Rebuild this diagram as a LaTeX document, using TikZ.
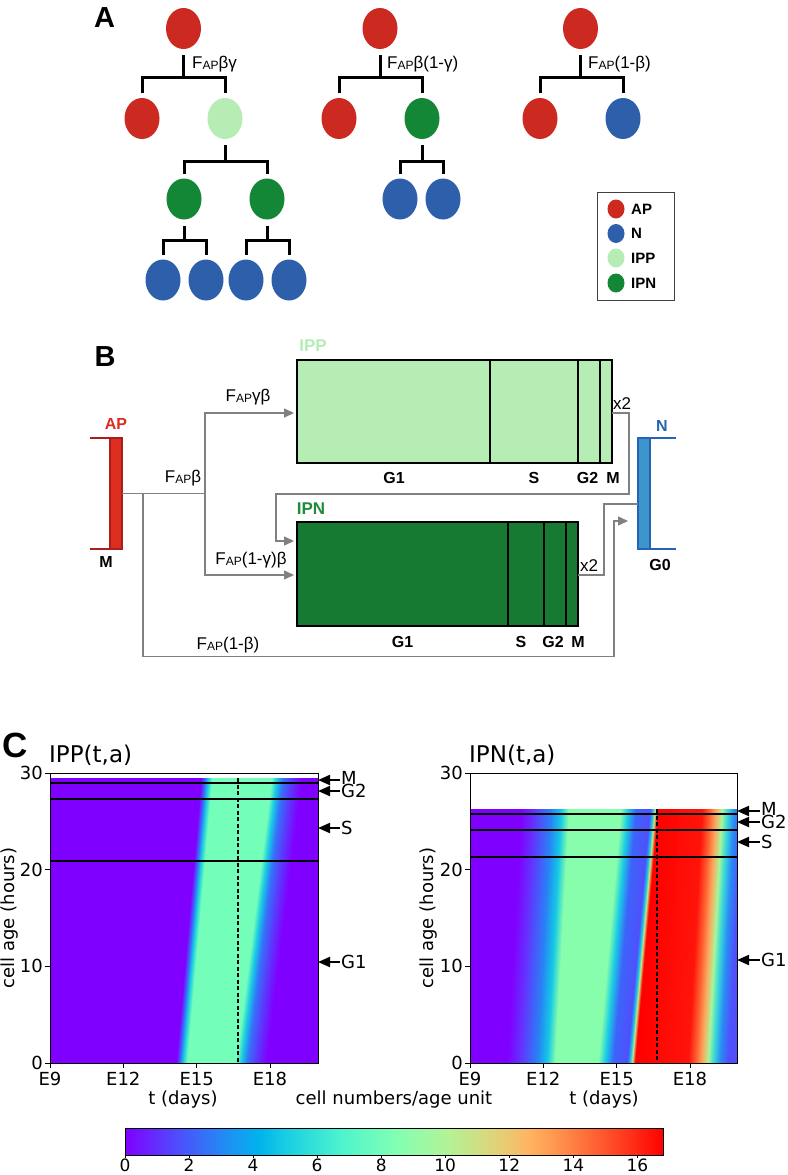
\documentclass[tikz,border=0pt]{standalone}
\usepackage{fontspec}
\setmainfont{Liberation Sans}
\newfontfamily\dejavu{DejaVu Sans}
\usetikzlibrary{shapes.geometric,arrows.meta}

\definecolor{cred}{RGB}{204,41,33}
\definecolor{cblue}{RGB}{45,95,170}
\definecolor{clgreen}{RGB}{181,237,181}
\definecolor{cdgreen}{RGB}{20,135,55}
\definecolor{boxdg}{RGB}{22,122,50}
\definecolor{ipnlabel}{RGB}{30,140,60}
\definecolor{apfill}{RGB}{220,45,30}
\definecolor{apedge}{RGB}{170,30,30}
\definecolor{nfill}{RGB}{60,150,205}
\definecolor{nedge}{RGB}{40,100,180}
\definecolor{conn}{RGB}{128,128,128}
% rainbow colormap
\definecolor{rb0}{RGB}{128,0,255}
\definecolor{rb1}{RGB}{77,79,252}
\definecolor{rb2}{RGB}{26,150,243}
\definecolor{rb25}{RGB}{0,180,236}
\definecolor{rb3}{RGB}{26,206,227}
\definecolor{rb4}{RGB}{77,243,206}
\definecolor{rb5}{RGB}{128,255,180}
\definecolor{rb6}{RGB}{179,243,150}
\definecolor{rb7}{RGB}{230,206,116}
\definecolor{rb75}{RGB}{255,180,98}
\definecolor{rb8}{RGB}{255,150,79}
\definecolor{rb9}{RGB}{255,79,40}
\definecolor{rb10}{RGB}{255,0,0}
% heatmap colours
\definecolor{hpur}{RGB}{128,0,255}
\definecolor{hbl}{RGB}{52,116,248}
\definecolor{hcy}{RGB}{24,204,228}
\definecolor{hmint}{RGB}{115,254,186}
\definecolor{hvio}{RGB}{91,56,253}
\definecolor{nv1}{RGB}{100,50,254}
\definecolor{nb1}{RGB}{40,130,245}
\definecolor{ncy}{RGB}{20,200,230}
\definecolor{nmint}{RGB}{135,254,172}
\definecolor{nbv}{RGB}{60,100,250}
\definecolor{nbv2}{RGB}{80,80,252}
\definecolor{nyg}{RGB}{200,230,130}
\definecolor{nred}{RGB}{255,0,0}
\definecolor{nred2}{RGB}{255,20,10}
\definecolor{nor1}{RGB}{255,100,50}
\definecolor{nor2}{RGB}{250,170,95}
\definecolor{nlg}{RGB}{170,245,150}
\definecolor{ncy2}{RGB}{60,220,215}
\definecolor{nbl2}{RGB}{40,140,245}
\definecolor{nend}{RGB}{90,70,252}

\pgfdeclarehorizontalshading{cbarsh}{100bp}{color(0bp)=(rb0); color(25bp)=(rb0); color(30bp)=(rb1); color(35bp)=(rb2); color(37.5bp)=(rb25); color(40bp)=(rb3); color(45bp)=(rb4); color(50bp)=(rb5); color(55bp)=(rb6); color(60bp)=(rb7); color(62.5bp)=(rb75); color(65bp)=(rb8); color(70bp)=(rb9); color(75bp)=(rb10); color(100bp)=(rb10)}
\pgfdeclarehorizontalshading{ippsh}{100bp}{color(0bp)=(hpur); color(42.6bp)=(hpur); color(43bp)=(hbl); color(43.3bp)=(hcy); color(43.7bp)=(hmint); color(48.6bp)=(hmint); color(49.1bp)=(hcy); color(49.7bp)=(hbl); color(50.6bp)=(hvio); color(51.6bp)=(hpur); color(100bp)=(hpur)}
\pgfdeclarehorizontalshading{ipnsh}{100bp}{color(0bp)=(hpur); color(35.7bp)=(hpur); color(37bp)=(nv1); color(38.7bp)=(nb1); color(39.7bp)=(ncy); color(40.5bp)=(nmint); color(44.8bp)=(nmint); color(45.5bp)=(hcy); color(46.3bp)=(nbv); color(47.7bp)=(nbv2); color(48bp)=(ncy); color(48.2bp)=(nyg); color(48.5bp)=(nred); color(53.8bp)=(nred2); color(54.6bp)=(nor1); color(55.2bp)=(nor2); color(55.8bp)=(nlg); color(56.3bp)=(ncy2); color(57bp)=(nbl2); color(57.8bp)=(nbv2); color(61bp)=(nend); color(100bp)=(nend)}

\newcommand{\FAP}{F\raisebox{-1.2pt}{\fontsize{12}{12}\selectfont AP}}
\newcommand{\branch}[4]{%
  \coordinate (tmpbar) at (0,#4);
  \draw[tree] ([yshift=-6pt]#1.south) -- (#1.south |- tmpbar);
  \draw[tree] ([yshift=4.5pt]#2.north) -- (#2.north |- tmpbar) -- (#3.north |- tmpbar) -- ([yshift=4.5pt]#3.north);
}
% #1 clip path, #2 xshift (= slant*1063), #3 slant, #4 shading, #5 rectangle
\newcommand{\heatpart}[5]{%
  \begin{scope}
    \clip #1;
    \begin{scope}[transform canvas={xshift=#2pt, xslant=#3}]
      \shade[shading=#4] #5;
    \end{scope}
  \end{scope}
}

\begin{document}
\begin{tikzpicture}[x=1pt,y=-1pt,
  cell/.style={ellipse, minimum width=35pt, minimum height=41pt, inner sep=0pt, draw=none},
  cAP/.style={cell, fill=cred}, cN/.style={cell, fill=cblue},
  cIPP/.style={cell, fill=clgreen}, cIPN/.style={cell, fill=cdgreen},
  lcell/.style={ellipse, minimum width=17pt, minimum height=19pt, inner sep=0pt, draw=none},
  tree/.style={line width=3pt, black},
  panel/.style={font=\fontsize{29}{30}\selectfont\bfseries},
  rate/.style={font=\fontsize{17}{20}\selectfont, inner sep=0pt},
  bl/.style={font=\fontsize{16}{18}\selectfont\bfseries, inner sep=0pt},
  legl/.style={font=\fontsize{15}{17}\selectfont\bfseries, inner sep=0pt, anchor=west},
  phase/.style={draw=black, line width=2pt, inner sep=0pt, outer sep=0pt},
  divl/.style={black, line width=2pt},
  conn/.style={draw=conn, line width=1.5pt},
  arr/.style={-{Triangle[length=10pt,width=9pt]}, shorten >=3pt},
  tl/.style={font=\dejavu\fontsize{18}{20}\selectfont, inner sep=0pt},
  cbt/.style={font=\dejavu\fontsize{17}{18}\selectfont, inner sep=0pt},
  frame/.style={draw=black, line width=1pt},
  tick/.style={black, line width=1pt},
  hline/.style={black, line width=1.3pt},
  dline/.style={black, line width=1.3pt, dash pattern=on 4pt off 2.5pt},
  ann/.style={black, line width=2pt, -{Triangle[length=12pt,width=10pt]}},
]
\useasboundingbox (0,0) rectangle (787,1175);
\fill[white] (0,0) rectangle (787,1175);

% ================= Panel A =================
\node[panel] (labA) at (104.5,17.5) {A};
% tree 1
\node[cAP] (r1) at (183.5,28.5) {};
\node[cAP] (r1a) at (142,118.5) {};
\node[cIPP] (r1b) at (225,118.5) {};
\node[cIPN] (r1c) at (184,199) {};
\node[cIPN] (r1d) at (267,199) {};
\node[cN] (r1e) at (163,280) {};
\node[cN] (r1f) at (206,280) {};
\node[cN] (r1g) at (246,280) {};
\node[cN] (r1h) at (289,280) {};
\branch{r1}{r1a}{r1b}{77}
\branch{r1b}{r1c}{r1d}{161.5}
\branch{r1c}{r1e}{r1f}{240}
\branch{r1d}{r1g}{r1h}{240}
\node[rate, anchor=west] (t1) at (192,64) {\FAP βγ};
% tree 2
\node[cAP] (r2) at (380,28.5) {};
\node[cAP] (r2a) at (339,118.5) {};
\node[cIPN] (r2b) at (422,118.5) {};
\node[cN] (r2c) at (400,199) {};
\node[cN] (r2d) at (443,199) {};
\branch{r2}{r2a}{r2b}{77}
\branch{r2b}{r2c}{r2d}{161.5}
\node[rate, anchor=west] (t2) at (387,64) {\FAP β(1-γ)};
% tree 3
\node[cAP] (r3) at (580.5,28.5) {};
\node[cAP] (r3a) at (540,118.5) {};
\node[cN] (r3b) at (623,118.5) {};
\branch{r3}{r3a}{r3b}{77}
\node[rate, anchor=west] (t3) at (588,64) {\FAP(1-β)};
% legend
\node[draw=black!75, line width=1pt, minimum width=77pt, minimum height=108pt, inner sep=0pt] (legend) at (635.5,246) {};
\node[lcell, fill=cred] (lg1) at (616,209) {};
\node[lcell, fill=cblue] (lg2) at (616,233.5) {};
\node[lcell, fill=clgreen] (lg3) at (616,258) {};
\node[lcell, fill=cdgreen] (lg4) at (616,283) {};
\node[legl] (lt1) at (631,209) {AP};
\node[legl] (lt2) at (631,233.5) {N};
\node[legl] (lt3) at (631,258) {IPP};
\node[legl] (lt4) at (631,283) {IPN};

% ================= Panel B =================
\node[panel] (labB) at (105,357) {B};
% AP bracket
\draw[apedge, line width=2.5pt] (90,438) -- (122,438);
\draw[apedge, line width=2.5pt] (90,549) -- (122,549);
\node[fill=apfill, draw=apedge, line width=2pt, minimum width=12pt, minimum height=111pt, inner sep=0pt, outer sep=0pt] (apbar) at (116,493.5) {};
\node[bl, text=apfill] (aplab) at (116,424) {AP};
\node[bl] (apm) at (106,562) {M};
% N bracket
\draw[nedge, line width=2.5pt] (638,438) -- (676,438);
\draw[nedge, line width=2.5pt] (638,549) -- (676,549);
\node[fill=nfill, draw=nedge, line width=2pt, minimum width=12pt, minimum height=111pt, inner sep=0pt, outer sep=0pt] (nbar) at (644,493.5) {};
\node[bl, text=nedge] (nlab) at (662,426) {N};
\node[bl] (ng0) at (660,565) {G0};
% IPP box
\node[phase, fill=clgreen, minimum width=315pt, minimum height=103pt] (ipp) at (454.5,411.5) {};
\draw[divl] (490,360) -- (490,463);
\draw[divl] (578,360) -- (578,463);
\draw[divl] (600,360) -- (600,463);
\node[bl] at (394,478) {G1};
\node[bl] at (534,478) {S};
\node[bl] at (587.5,478) {G2};
\node[bl] at (613,478) {M};
\node[font=\fontsize{17}{18}\selectfont\bfseries, text=clgreen, inner sep=0pt] (ipplab) at (313,346) {IPP};
% IPN box
\node[phase, fill=boxdg, minimum width=281pt, minimum height=104pt] (ipn) at (437.5,574) {};
\draw[divl] (508,522) -- (508,626);
\draw[divl] (544,522) -- (544,626);
\draw[divl] (566,522) -- (566,626);
\node[bl] at (402.5,642) {G1};
\node[bl] at (521,642) {S};
\node[bl] at (553,642) {G2};
\node[bl] at (578,642) {M};
\node[font=\fontsize{17}{18}\selectfont\bfseries, text=ipnlabel, inner sep=0pt] (ipnlab) at (311,509) {IPN};
% connectors
\coordinate (j1) at (143,493.5);
\coordinate (j2) at (205,493.5);
\draw[conn] (apbar.east) -- (j2);
\draw[conn, arr] (j2) |- ([yshift=-1.5pt]ipp.west);
\draw[conn, arr] (j2) |- ([yshift=-1pt]ipn.west);
\coordinate (b1) at (614,656.5);
\draw[conn, -{Triangle[length=10pt,width=9pt]}, shorten >=10pt] (j1) |- (b1) |- ([yshift=-27.5pt]nbar.west);
\coordinate (k1) at (629,494);
\coordinate (k2) at (276,494);
\draw[conn, arr] ([yshift=-1.5pt]ipp.east) -| (k1) -- (k2) |- ([yshift=33pt]ipn.west);
\coordinate (n1) at (604,504);
\draw[conn] ([yshift=-1pt]ipn.east) -| (n1) -- ([yshift=-10.5pt]nbar.west);
\node[rate] (x2a) at (622,404) {x2};
\node[rate] (x2b) at (589,566) {x2};
\node[rate] (lb1) at (248,397) {\FAP γβ};
\node[rate] (lb2) at (183,478) {\FAP β};
\node[rate] (lb3) at (251,560) {\FAP(1-γ)β};
\node[rate] (lb4) at (228,645) {\FAP(1-β)};

% ================= Panel C =================
\node[font=\fontsize{35}{36}\selectfont\bfseries, inner sep=0pt] (labC) at (15,745) {C};
% ---- IPP heatmap
\node[font=\dejavu\fontsize{23}{25}\selectfont, inner sep=0pt, anchor=west] (ttl1) at (49,755) {IPP(t,a)};
\heatpart{(50,778) -- (236,778) -- (211,1063) -- (50,1063) -- cycle}{93.544}{0.088}{ippsh}{(0,770) rectangle (500,1070)}
\heatpart{(234,778) -- (318,778) -- (318,1063) -- (209,1063) -- cycle}{132.875}{0.125}{ippsh}{(0,770) rectangle (500,1070)}
\draw[hline] (50,783) -- (318,783);
\draw[hline] (50,799) -- (318,799);
\draw[hline] (50,861) -- (318,861);
\draw[dline] (238,778) -- (238,1063);
\draw[frame] (50,773) rectangle (318,1063);
\foreach \v/\yy in {0/1063,10/966.3,20/869.7,30/773} {
  \draw[tick] (50,\yy) -- (45,\yy);
  \node[tl, anchor=east] at (43,\yy) {\v};
}
\foreach \lab/\xx in {E9/50,E12/123.3,E15/196.7,E18/270} {
  \draw[tick] (\xx,1063) -- (\xx,1068);
  \node[tl] at (\xx,1079) {\lab};
}
\node[tl, rotate=90] (yl1) at (10,918) {cell age (hours)};
\node[tl] (xl1) at (183,1100) {t (days)};
\draw[ann] (340,780) -- (318,780);
\draw[ann] (340,791) -- (318,791);
\draw[ann] (340,828) -- (318,828);
\draw[ann] (340,962) -- (318,962);
\node[tl, anchor=west] at (341,778) {M};
\node[tl, anchor=west] at (341,791) {G2};
\node[tl, anchor=west] at (341,828) {S};
\node[tl, anchor=west] at (341,962) {G1};
% ---- IPN heatmap
\node[font=\dejavu\fontsize{23}{25}\selectfont, inner sep=0pt, anchor=west] (ttl2) at (469,755) {IPN(t,a)};
\heatpart{(470,809) -- (591,809) -- (576,1063) -- (470,1063) -- cycle}{58.465}{0.055}{ipnsh}{(400,800) rectangle (900,1070)}
\heatpart{(589,809) -- (681,809) -- (666,1063) -- (574,1063) -- cycle}{95.67}{0.09}{ipnsh}{(400,800) rectangle (900,1070)}
\heatpart{(679,809) -- (737,809) -- (737,1063) -- (664,1063) -- cycle}{58.465}{0.055}{ipnsh}{(400,800) rectangle (900,1070)}
\draw[hline] (470,814) -- (737,814);
\draw[hline] (470,830) -- (737,830);
\draw[hline] (470,857) -- (737,857);
\draw[dline] (657,809) -- (657,1063);
\draw[frame] (470,773) rectangle (737,1063);
\foreach \v/\yy in {0/1063,10/966.3,20/869.7,30/773} {
  \draw[tick] (470,\yy) -- (465,\yy);
  \node[tl, anchor=east] at (463,\yy) {\v};
}
\foreach \lab/\xx in {E9/470,E12/543.3,E15/616.7,E18/690} {
  \draw[tick] (\xx,1063) -- (\xx,1068);
  \node[tl] at (\xx,1079) {\lab};
}
\node[tl, rotate=90] (yl2) at (429,918) {cell age (hours)};
\node[tl] (xl2) at (604,1100) {t (days)};
\draw[ann] (760,811) -- (737,811);
\draw[ann] (760,822) -- (737,822);
\draw[ann] (760,842) -- (737,842);
\draw[ann] (760,960) -- (737,960);
\node[tl, anchor=west] at (761,809) {M};
\node[tl, anchor=west] at (761,822) {G2};
\node[tl, anchor=west] at (761,842) {S};
\node[tl, anchor=west] at (761,960) {G1};
% ---- colorbar
\node[tl] (cbl) at (394,1100) {cell numbers/age unit};
\shade[shading=cbarsh] (125,1128) rectangle (663,1155);
\draw[frame] (125,1128) rectangle (663,1155);
\foreach \v in {0,2,...,16} {
  \pgfmathsetmacro\xx{125+32.024*\v}
  \draw[tick] (\xx,1155) -- (\xx,1158);
  \node[cbt, anchor=north] at (\xx,1159) {\v};
}
\end{tikzpicture}
\end{document}
